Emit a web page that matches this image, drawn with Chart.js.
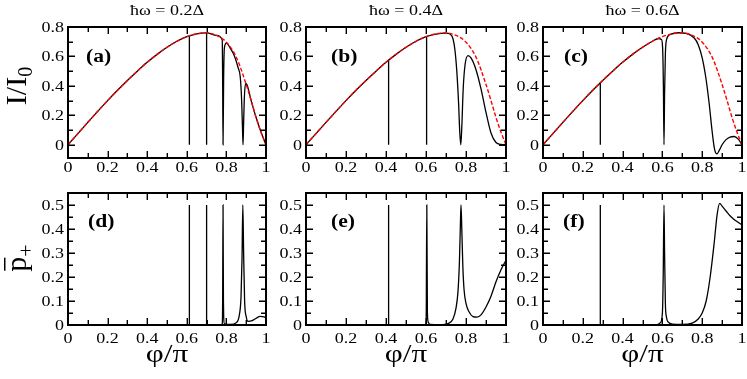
<!DOCTYPE html>
<html>
<head>
<meta charset="utf-8">
<script src="https://cdn.jsdelivr.net/npm/chart.js@4.4.1/dist/chart.umd.min.js"></script>
<style>
  html, body { margin: 0; padding: 0; background: #fff; }
  #wrap { position: relative; width: 747px; height: 379px; }
  #wrap canvas { position: absolute; left: 0; top: 0; }
</style>
</head>
<body>
<div id="wrap"></div>
<script>
// adiabatic current (red dashed), same in the three top panels
const phiRef = [0, 0.05, 0.1, 0.15, 0.2, 0.25, 0.3, 0.35, 0.4, 0.45, 0.5, 0.55, 0.6, 0.65, 0.7, 0.75, 0.8, 0.85, 0.9, 0.925, 0.95, 0.975, 1];
const iRef = [0, 0.076, 0.152, 0.227, 0.300, 0.370, 0.437, 0.500, 0.560, 0.614, 0.662, 0.703, 0.734, 0.754, 0.760, 0.743, 0.697, 0.595, 0.410, 0.300, 0.185, 0.085, 0];

// I/I0 under driving: smooth part of the black curves
const phiA = [0, 0.05, 0.1, 0.15, 0.2, 0.25, 0.3, 0.35, 0.4, 0.45, 0.5, 0.55, 0.6, 0.65, 0.7, 0.75, 0.779, 0.781, 0.783, 0.786, 0.79, 0.8, 0.82, 0.84, 0.86, 0.87, 0.877, 0.882, 0.884, 0.887, 0.891, 0.897, 0.903, 0.925, 0.95, 0.975, 1];
const iA = [0, 0.076, 0.152, 0.227, 0.300, 0.370, 0.437, 0.500, 0.560, 0.614, 0.662, 0.703, 0.734, 0.754, 0.760, 0.743, 0.712, 0.45, 0, 0.45, 0.66, 0.69, 0.655, 0.605, 0.52, 0.46, 0.30, 0.08, 0, 0.15, 0.33, 0.415, 0.41, 0.30, 0.185, 0.085, 0];

const phiB = [0, 0.05, 0.1, 0.15, 0.2, 0.25, 0.3, 0.35, 0.4, 0.45, 0.5, 0.55, 0.6, 0.65, 0.7, 0.72, 0.735, 0.745, 0.755, 0.763, 0.769, 0.774, 0.779, 0.786, 0.795, 0.81, 0.825, 0.85, 0.875, 0.9, 0.925, 0.95, 0.975, 1];
const iB = [0, 0.076, 0.152, 0.227, 0.300, 0.370, 0.437, 0.500, 0.560, 0.614, 0.662, 0.703, 0.734, 0.752, 0.758, 0.752, 0.72, 0.64, 0.48, 0.28, 0.08, 0, 0.12, 0.38, 0.54, 0.605, 0.59, 0.51, 0.38, 0.22, 0.08, 0.015, 0.002, 0];

const phiC = [0, 0.05, 0.1, 0.15, 0.2, 0.25, 0.3, 0.35, 0.4, 0.45, 0.5, 0.55, 0.58, 0.595, 0.601, 0.605, 0.608, 0.611, 0.615, 0.622, 0.64, 0.68, 0.72, 0.76, 0.78, 0.8, 0.82, 0.835, 0.85, 0.862, 0.874, 0.887, 0.9, 0.92, 0.94, 0.96, 0.98, 1];
const iC = [0, 0.076, 0.152, 0.227, 0.300, 0.370, 0.437, 0.500, 0.560, 0.614, 0.662, 0.703, 0.722, 0.715, 0.66, 0.40, 0, 0.35, 0.62, 0.72, 0.75, 0.761, 0.757, 0.725, 0.68, 0.59, 0.44, 0.28, 0.09, -0.03, -0.062, -0.035, 0.0, 0.035, 0.052, 0.056, 0.04, 0];

// very narrow resonances in I/I0: position and height of the vertical line
const spikeXA = [0.613, 0.700];
const spikeTopA = [0.737, 0.760];
const spikeXB = [0.413, 0.603];
const spikeTopB = [0.574, 0.733];
const spikeXC = [0.288];
const spikeTopC = [0.422];

// time averaged occupation p+
const phiD = [0, 0.6, 0.77, 0.779, 0.781, 0.783, 0.785, 0.79, 0.82, 0.85, 0.865, 0.874, 0.879, 0.883, 0.887, 0.892, 0.9, 0.91, 0.93, 0.95, 0.97, 0.99, 1];
const pD = [0, 0, 0, 0.005, 0.1, 0.5, 0.1, 0.005, 0.002, 0.01, 0.04, 0.12, 0.28, 0.5, 0.3, 0.1, 0.035, 0.015, 0.018, 0.028, 0.036, 0.034, 0.03];

const phiE = [0, 0.598, 0.601, 0.604, 0.607, 0.612, 0.62, 0.68, 0.71, 0.735, 0.75, 0.76, 0.767, 0.772, 0.775, 0.779, 0.784, 0.79, 0.8, 0.815, 0.835, 0.855, 0.875, 0.9, 0.925, 0.95, 0.975, 1];
const pE = [0, 0.002, 0.03, 0.5, 0.05, 0.01, 0.002, 0.001, 0.006, 0.025, 0.07, 0.14, 0.26, 0.42, 0.5, 0.4, 0.25, 0.15, 0.09, 0.055, 0.035, 0.033, 0.042, 0.075, 0.12, 0.18, 0.23, 0.27];

const phiF = [0, 0.57, 0.59, 0.6, 0.604, 0.608, 0.611, 0.615, 0.62, 0.63, 0.65, 0.7, 0.75, 0.78, 0.8, 0.82, 0.84, 0.86, 0.875, 0.888, 0.9, 0.92, 0.94, 0.96, 0.98, 1];
const pF = [0, 0.001, 0.01, 0.05, 0.2, 0.5, 0.3, 0.09, 0.035, 0.012, 0.004, 0.002, 0.008, 0.025, 0.05, 0.1, 0.2, 0.34, 0.46, 0.507, 0.495, 0.475, 0.455, 0.44, 0.428, 0.417];

const spikeXD = [0.613, 0.700];
const spikeTopD = [0.5, 0.5];
const spikeXE = [0.413];
const spikeTopE = [0.5];
const spikeXF = [0.288];
const spikeTopF = [0.5];

const omegaLabels = ["ħω = 0.2Δ", "ħω = 0.4Δ", "ħω = 0.6Δ"];
const panelLetters = ["(a)", "(b)", "(c)", "(d)", "(e)", "(f)"];

// layout (pixels)
const W = 747, H = 379;
const cols = [[68, 266], [306, 506], [543, 742]];
const rows = [[27, 158], [193, 325]];
const SERIF = "'Liberation Serif', serif";
const SX = 1.2; // the original lettering is stretched horizontally

function pts(xs, ys) {
  return xs.map((x, i) => ({ x: x, y: ys[i] }));
}

function font(size, weight) {
  return (weight ? weight + " " : "") + size + "px " + SERIF;
}

function drawText(ctx, s, x, y, size, opts) {
  opts = opts || {};
  ctx.save();
  ctx.translate(x, y);
  ctx.scale(SX, 1);
  ctx.font = font(size, opts.weight);
  ctx.fillStyle = "#000";
  ctx.textAlign = opts.align || "center";
  ctx.textBaseline = opts.base || "alphabetic";
  ctx.fillText(s, 0, 0);
  ctx.restore();
}

// tick values between the scale's own min and max
function tickValues(scale, step) {
  const out = [];
  const k0 = Math.ceil(scale.min / step - 1e-6);
  const k1 = Math.floor(scale.max / step + 1e-6);
  for (let k = k0; k <= k1; k++) out.push({ v: k * step, k: k });
  return out;
}

function fmt(v) {
  return String(Number(v.toFixed(2)));
}

const framePlugin = {
  id: "frame",
  afterDraw(chart, args, o) {
    const ctx = chart.ctx;
    const a = chart.chartArea;
    const xs = chart.scales.x, ys = chart.scales.y;
    ctx.save();
    ctx.setLineDash([]);
    ctx.strokeStyle = "#000";
    ctx.fillStyle = "#000";

    // inward ticks on all four sides
    ctx.lineWidth = 1.4;
    ctx.lineCap = "butt";
    ctx.beginPath();
    tickValues(xs, 0.1).forEach(t => {
      const px = Math.round(xs.getPixelForValue(t.v)) + 0.3;
      const len = t.k % 2 === 0 ? 7 : 5;
      ctx.moveTo(px, a.bottom); ctx.lineTo(px, a.bottom - len);
      ctx.moveTo(px, a.top); ctx.lineTo(px, a.top + len);
    });
    tickValues(ys, o.yMinor).forEach(t => {
      const py = Math.round(ys.getPixelForValue(t.v)) + 0.3;
      const len = t.k % 2 === 0 ? 7 : 5;
      ctx.moveTo(a.left, py); ctx.lineTo(a.left + len, py);
      ctx.moveTo(a.right, py); ctx.lineTo(a.right - len, py);
    });
    ctx.stroke();

    ctx.lineWidth = 2;
    ctx.strokeRect(a.left, a.top, a.right - a.left, a.bottom - a.top);

    // tick labels
    tickValues(xs, 0.2).forEach(t => {
      drawText(ctx, fmt(t.v), xs.getPixelForValue(t.v), a.bottom + o.xLabelOff, 15, { base: "middle" });
    });
    tickValues(ys, o.yMajor).forEach(t => {
      drawText(ctx, fmt(t.v), a.left - 4, ys.getPixelForValue(t.v) + 1, 15, { align: "right", base: "middle" });
    });

    // panel letter
    drawText(ctx, o.letter, a.left + o.letterDx, a.top + o.letterDy, 18, { weight: "bold", align: "left", base: "middle" });

    const cx = (a.left + a.right) / 2;
    if (o.title) drawText(ctx, o.title, cx, 15, 15, {});
    if (o.xTitle) drawText(ctx, "φ/π", cx, 362, 26, {});
    if (o.yTitle === "I") {
      ctx.save();
      ctx.translate(26, 86);
      ctx.rotate(-Math.PI / 2);
      ctx.font = font(30);
      const w1 = ctx.measureText("I/I").width;
      ctx.font = font(20);
      const w2 = ctx.measureText("0").width;
      const x0 = -(w1 + w2) / 2;
      ctx.font = font(30);
      ctx.fillText("I/I", x0, 0);
      ctx.font = font(20);
      ctx.fillText("0", x0 + w1, 6);
      ctx.restore();
    } else if (o.yTitle === "p") {
      ctx.save();
      ctx.translate(26, 258);
      ctx.rotate(-Math.PI / 2);
      ctx.font = font(30);
      const w1 = ctx.measureText("p").width;
      ctx.font = font(22);
      const w2 = ctx.measureText("+").width;
      const x0 = -(w1 + w2) / 2;
      ctx.font = font(30);
      ctx.fillText("p", x0, 0);
      ctx.fillRect(x0 + 1, -22, w1 - 2, 1.5);
      ctx.font = font(22);
      ctx.fillText("+", x0 + w1, 7);
      ctx.restore();
    }
    ctx.restore();
  }
};

const panels = [
  { col: 0, row: 0, xs: phiA, ys: iA, sx: spikeXA, st: spikeTopA, title: omegaLabels[0], yTitle: "I", letterDx: 18, letterDy: 30 },
  { col: 1, row: 0, xs: phiB, ys: iB, sx: spikeXB, st: spikeTopB, title: omegaLabels[1], letterDx: 25, letterDy: 30 },
  { col: 2, row: 0, xs: phiC, ys: iC, sx: spikeXC, st: spikeTopC, title: omegaLabels[2], letterDx: 21, letterDy: 30 },
  { col: 0, row: 1, xs: phiD, ys: pD, sx: spikeXD, st: spikeTopD, yTitle: "p", xTitle: true, letterDx: 20, letterDy: 29 },
  { col: 1, row: 1, xs: phiE, ys: pE, sx: spikeXE, st: spikeTopE, xTitle: true, letterDx: 25, letterDy: 29 },
  { col: 2, row: 1, xs: phiF, ys: pF, sx: spikeXF, st: spikeTopF, xTitle: true, letterDx: 20, letterDy: 29 }
];

const wrap = document.getElementById("wrap");

panels.forEach((p, k) => {
  const cv = document.createElement("canvas");
  cv.width = W; cv.height = H;
  wrap.appendChild(cv);

  const top = p.row === 0;
  const [x0, x1] = cols[p.col];
  const [y0, y1] = rows[p.row];

  const datasets = [];
  if (top) {
    datasets.push({
      data: pts(phiRef, iRef),
      borderColor: "#ff0000",
      borderWidth: 1.4,
      borderDash: [4, 2],
      cubicInterpolationMode: "monotone",
      order: 0
    });
  }
  datasets.push({
    data: pts(p.xs, p.ys),
    borderColor: "#000000",
    borderWidth: 1.3,
    cubicInterpolationMode: "monotone",
    order: 1
  });
  p.sx.forEach((x, i) => {
    datasets.push({
      data: [{ x: x, y: p.st[i] }, { x: x, y: 0 }],
      borderColor: "#000000",
      borderWidth: 1.3,
      tension: 0,
      order: 1
    });
  });

  new Chart(cv.getContext("2d"), {
    type: "line",
    data: { datasets: datasets },
    options: {
      responsive: false,
      animation: false,
      events: [],
      layout: { padding: { left: x0, right: W - x1, top: y0, bottom: H - y1 } },
      elements: {
        point: { radius: 0 },
        line: { fill: false }
      },
      scales: {
        x: { type: "linear", display: false, min: 0, max: 1 },
        y: top
          ? { type: "linear", display: false, min: -0.09, max: 0.8 }
          : { type: "linear", display: false, min: 0, max: 0.55 }
      },
      plugins: {
        legend: { display: false },
        tooltip: { enabled: false },
        frame: {
          letter: panelLetters[k],
          letterDx: p.letterDx,
          letterDy: p.letterDy,
          title: p.title,
          xTitle: p.xTitle,
          yTitle: p.yTitle,
          yMinor: top ? 0.1 : 0.05,
          yMajor: top ? 0.2 : 0.1,
          xLabelOff: top ? 10 : 14
        }
      }
    },
    plugins: [framePlugin]
  });
});
</script>
</body>
</html>
